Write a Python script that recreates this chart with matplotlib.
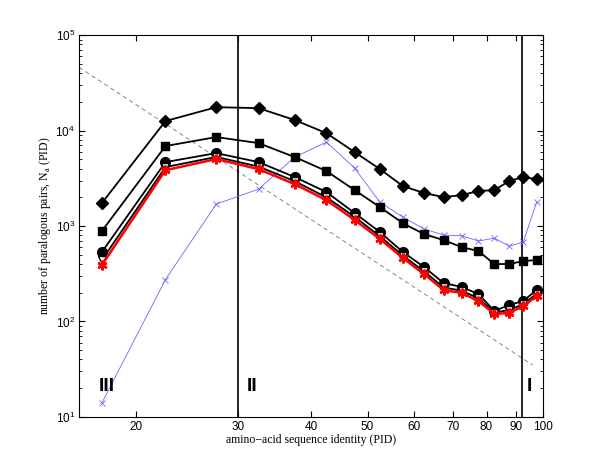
import numpy as np
import matplotlib.pyplot as plt
from matplotlib.ticker import NullLocator, LogLocator, FixedLocator, FixedFormatter

plt.rcParams['font.family'] = 'Liberation Sans'

pid = [17.5, 22.5, 27.5, 32.5, 37.5, 42.5, 47.5, 52.5, 57.5,
       62.5, 67.5, 72.5, 77.5, 82.5, 87.5, 92.5, 97.5]

n_diamond = [1740, 12600, 17600, 17200, 12900, 9400, 5960, 3950, 2620,
             2220, 2010, 2110, 2330, 2380, 2960, 3260, 3100]
n_square = [887, 6890, 8560, 7400, 5280, 3770, 2380, 1580, 1070,
            824, 713, 602, 547, 400, 400, 430, 440]
n_circle = [534, 4680, 5810, 4680, 3260, 2270, 1370, 865, 534,
            372, 253, 230, 194, 129, 149, 164, 214]
n_tri = [440, 4150, 5300, 4200, 2950, 2000, 1250, 780, 490,
         335, 228, 210, 175, 124, 132, 152, 195]
n_star = [391, 3850, 5040, 3950, 2750, 1870, 1160, 731, 462,
          314, 214, 199, 164, 120, 123, 145, 185]
n_blue = [14, 275, 1700, 2440, 5280, 7580, 4050, 1780, 1240,
          931, 806, 790, 697, 748, 616, 680, 1780]

# power-law guide line (slope -4)
guide_x = [16, 96]
guide_y = [46000, 35]

regions = ['III', 'II', 'I']
region_x = [17.3, 31, 93.6]
region_y = [21, 21, 21]

xticks = [20, 30, 40, 50, 60, 70, 80, 90, 100]

fig = plt.figure(figsize=(6, 4.69), dpi=100)
ax = fig.add_axes([0.132, 0.111, 0.773, 0.814])

ax.plot(guide_x, guide_y, '--', color='0.45', lw=0.6, dashes=(5, 4))
ax.axvline(30, color='k', lw=1.2)
ax.axvline(92, color='k', lw=1.2)

ax.plot(pid, n_blue, '-x', color=(0.4, 0.4, 1.0), lw=0.6, ms=4, mew=0.6)
ax.plot(pid, n_diamond, '-D', color='k', lw=1.3, ms=6.5)
ax.plot(pid, n_square, '-s', color='k', lw=1.3, ms=6)
ax.plot(pid, n_circle, '-o', color='k', lw=1.3, ms=7)
ax.plot(pid, n_tri, '-v', color='k', lw=1.3, ms=6, mfc='white', mec='k')
ax.plot(pid, n_star, '-', color='red', lw=1.8, marker=(6, 2, 0), ms=7, mew=1.8)

for t, x, y in zip(regions, region_x, region_y):
    ax.text(x, y, t, fontsize=14, fontweight='bold', ha='left', va='center')

ax.set_xscale('log')
ax.set_yscale('log')
ax.set_xlim(16, 100)
ax.set_ylim(10, 1e5)

ax.xaxis.set_major_locator(FixedLocator(xticks))
ax.xaxis.set_major_formatter(FixedFormatter([str(v) for v in xticks]))
ax.xaxis.set_minor_locator(NullLocator())
ax.yaxis.set_major_locator(LogLocator(base=10))
ax.yaxis.set_minor_locator(LogLocator(base=10, subs=np.arange(2, 10)))

ax.tick_params(which='both', direction='in', top=True, right=True, labelsize=8.5, pad=3)
ax.tick_params(which='major', length=4)
ax.tick_params(which='minor', length=2)
for s in ax.spines.values():
    s.set_linewidth(0.8)

ax.set_xlabel('amino\u2212acid sequence identity (PID)', family='Liberation Serif',
              fontsize=8.5, labelpad=1)
ax.set_ylabel('number of paralogous pairs, N$_\\mathdefault{a}$ (PID)',
              family='Liberation Serif', fontsize=8.5, labelpad=2)

fig.savefig('out.png', dpi=100)
